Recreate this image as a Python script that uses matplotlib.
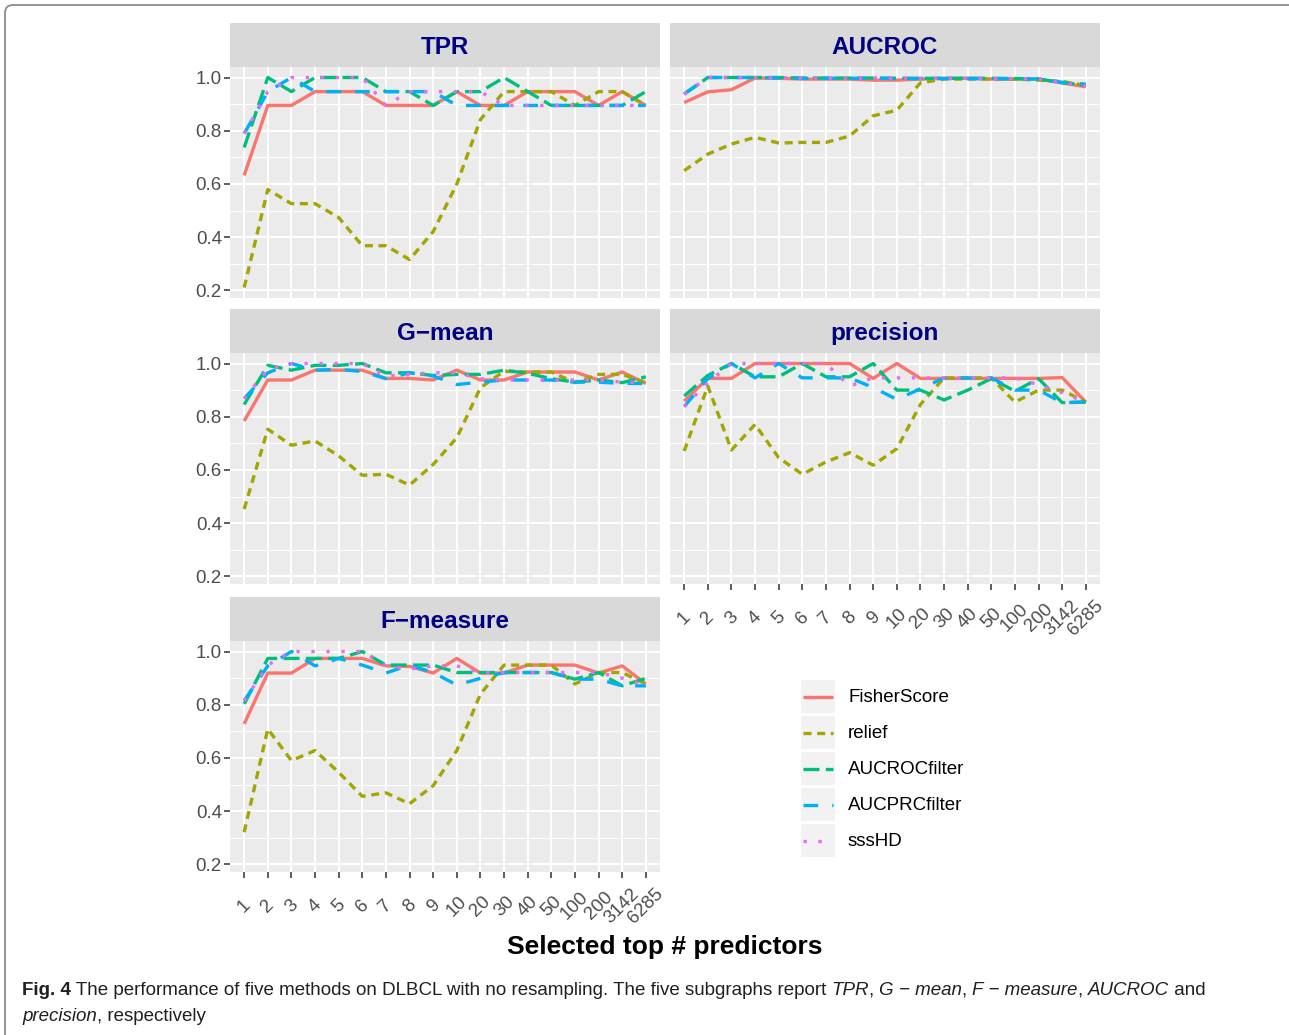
import numpy as np
import matplotlib
matplotlib.use('Agg')
import matplotlib.pyplot as plt
from matplotlib.patches import Rectangle, FancyBboxPatch

plt.rcParams['font.family'] = ['Liberation Sans', 'DejaVu Sans']

# x categories: number of top predictors kept
sizes = ['1', '2', '3', '4', '5', '6', '7', '8', '9', '10', '20', '30', '40',
         '50', '100', '200', '3142', '6285']

methods = ['FisherScore', 'relief', 'AUCROCfilter', 'AUCPRCfilter', 'sssHD']
colors = ['#F8766D', '#A3A500', '#00BF7D', '#00B0F6', '#E76BF3']
styles = ['-', (0, (2.4, 1.7)), (0, (4.8, 1.9)), (0, (4.4, 4.2)), (0, (1, 3.5))]

# TPR
tpr_fisher = [0.632, 0.895, 0.895, 0.947, 0.947, 0.947, 0.895, 0.895, 0.895, 0.947, 0.895, 0.895, 0.947, 0.947, 0.947, 0.895, 0.947, 0.895]
tpr_relief = [0.211, 0.579, 0.526, 0.526, 0.474, 0.368, 0.368, 0.316, 0.421, 0.600, 0.842, 0.947, 0.947, 0.947, 0.895, 0.947, 0.947, 0.895]
tpr_aucroc = [0.737, 1.000, 0.947, 1.000, 1.000, 1.000, 0.947, 0.947, 0.895, 0.947, 0.947, 1.000, 0.947, 0.895, 0.895, 0.895, 0.895, 0.947]
tpr_aucprc = [0.789, 0.947, 1.000, 0.947, 0.947, 0.947, 0.947, 0.947, 0.947, 0.895, 0.895, 0.895, 0.895, 0.895, 0.895, 0.895, 0.895, 0.895]
tpr_ssshd = [0.789, 0.947, 1.000, 1.000, 1.000, 1.000, 0.895, 0.947, 0.947, 0.947, 0.947, 0.895, 0.895, 0.895, 0.895, 0.895, 0.895, 0.895]

# AUCROC
auc_fisher = [0.906, 0.946, 0.954, 0.998, 0.997, 0.994, 0.994, 0.994, 0.990, 0.990, 0.994, 0.997, 0.997, 0.994, 0.994, 0.994, 0.980, 0.965]
auc_relief = [0.650, 0.712, 0.750, 0.775, 0.754, 0.756, 0.756, 0.780, 0.856, 0.877, 0.980, 0.994, 0.994, 0.994, 0.994, 0.990, 0.985, 0.970]
auc_aucroc = [0.938, 1.000, 1.000, 1.000, 1.000, 0.998, 0.998, 0.998, 0.998, 0.997, 0.997, 0.997, 0.997, 0.997, 0.996, 0.995, 0.980, 0.972]
auc_aucprc = [0.938, 1.000, 1.000, 1.000, 0.998, 0.997, 0.997, 0.997, 0.997, 0.996, 0.996, 0.996, 0.996, 0.996, 0.995, 0.994, 0.982, 0.975]
auc_ssshd = [0.937, 1.000, 1.000, 0.999, 0.999, 0.998, 0.998, 0.998, 0.998, 0.998, 0.997, 0.997, 0.997, 0.996, 0.996, 0.995, 0.979, 0.968]

# G-mean
gm_fisher = [0.784, 0.938, 0.938, 0.975, 0.975, 0.975, 0.944, 0.944, 0.938, 0.975, 0.938, 0.938, 0.968, 0.968, 0.968, 0.938, 0.968, 0.925]
gm_relief = [0.453, 0.753, 0.693, 0.709, 0.653, 0.580, 0.584, 0.543, 0.621, 0.721, 0.909, 0.971, 0.968, 0.968, 0.928, 0.959, 0.959, 0.928]
gm_aucroc = [0.846, 0.993, 0.975, 0.993, 0.993, 1.000, 0.965, 0.965, 0.955, 0.959, 0.959, 0.975, 0.963, 0.943, 0.930, 0.938, 0.928, 0.950]
gm_aucprc = [0.868, 0.965, 1.000, 0.975, 0.978, 0.970, 0.943, 0.965, 0.953, 0.921, 0.930, 0.938, 0.938, 0.938, 0.930, 0.930, 0.925, 0.925]
gm_ssshd = [0.868, 0.978, 1.000, 1.000, 1.000, 1.000, 0.953, 0.959, 0.965, 0.965, 0.943, 0.938, 0.938, 0.938, 0.938, 0.938, 0.930, 0.928]

# precision
pr_fisher = [0.859, 0.944, 0.944, 1.000, 1.000, 1.000, 1.000, 1.000, 0.944, 1.000, 0.944, 0.944, 0.944, 0.944, 0.944, 0.944, 0.947, 0.855]
pr_relief = [0.671, 0.915, 0.675, 0.771, 0.646, 0.584, 0.630, 0.665, 0.618, 0.680, 0.846, 0.946, 0.946, 0.946, 0.855, 0.900, 0.900, 0.855]
pr_aucroc = [0.878, 0.955, 1.000, 0.950, 0.950, 1.000, 0.950, 0.950, 1.000, 0.900, 0.900, 0.863, 0.900, 0.943, 0.896, 0.943, 0.853, 0.855]
pr_aucprc = [0.838, 0.943, 1.000, 0.946, 1.000, 0.946, 0.946, 0.946, 0.910, 0.865, 0.905, 0.946, 0.946, 0.946, 0.900, 0.900, 0.853, 0.855]
pr_ssshd = [0.838, 0.928, 1.000, 1.000, 1.000, 1.000, 1.000, 0.915, 0.946, 0.946, 0.946, 0.946, 0.946, 0.946, 0.946, 0.920, 0.890, 0.855]

# F-measure
fm_fisher = [0.728, 0.919, 0.919, 0.974, 0.974, 0.974, 0.946, 0.944, 0.919, 0.974, 0.919, 0.919, 0.949, 0.949, 0.949, 0.919, 0.946, 0.878]
fm_relief = [0.321, 0.709, 0.590, 0.628, 0.546, 0.456, 0.469, 0.428, 0.496, 0.628, 0.840, 0.949, 0.949, 0.949, 0.878, 0.921, 0.921, 0.878]
fm_aucroc = [0.803, 0.974, 0.974, 0.974, 0.974, 1.000, 0.949, 0.949, 0.949, 0.921, 0.921, 0.921, 0.921, 0.921, 0.896, 0.921, 0.871, 0.899]
fm_aucprc = [0.815, 0.946, 1.000, 0.946, 0.974, 0.949, 0.919, 0.949, 0.921, 0.874, 0.899, 0.921, 0.921, 0.921, 0.896, 0.896, 0.871, 0.871]
fm_ssshd = [0.815, 0.949, 1.000, 1.000, 1.000, 1.000, 0.946, 0.934, 0.946, 0.946, 0.921, 0.921, 0.921, 0.921, 0.921, 0.921, 0.900, 0.874]

metrics = {
    'TPR': [tpr_fisher, tpr_relief, tpr_aucroc, tpr_aucprc, tpr_ssshd],
    'AUCROC': [auc_fisher, auc_relief, auc_aucroc, auc_aucprc, auc_ssshd],
    'G\u2212mean': [gm_fisher, gm_relief, gm_aucroc, gm_aucprc, gm_ssshd],
    'precision': [pr_fisher, pr_relief, pr_aucroc, pr_aucprc, pr_ssshd],
    'F\u2212measure': [fm_fisher, fm_relief, fm_aucroc, fm_aucprc, fm_ssshd],
}

W, H = 1289, 1035
fig = plt.figure(figsize=(W / 100, H / 100), dpi=100)


def px_axes(x0, y0, x1, y1):
    return fig.add_axes([x0 / W, 1 - y1 / H, (x1 - x0) / W, (y1 - y0) / H])


# full-figure overlay in pixel units for frame, legend and caption
over = fig.add_axes([0, 0, 1, 1])
over.set_xlim(0, W)
over.set_ylim(H, 0)
over.axis('off')
over.add_patch(FancyBboxPatch((5, 5), 1300, 1100, boxstyle='round,pad=0,rounding_size=8',
                              fc='none', ec='#8C8C8C', lw=1.3))

# shared y range with ggplot-like 5% expansion
allv = np.concatenate([np.ravel(v) for v in metrics.values()])
span = allv.max() - allv.min()
ylo, yhi = allv.min() - 0.05 * span, allv.max() + 0.05 * span

# (name, left px, top px, y labels, x labels)
layout = [('TPR', 230, 67, True, False),
          ('AUCROC', 670, 67, False, False),
          ('G\u2212mean', 230, 353, True, False),
          ('precision', 670, 353, False, True),
          ('F\u2212measure', 230, 641, True, True)]

LW = 2.4
x = np.arange(len(sizes))
for name, x0, y0, show_y, show_x in layout:
    ax = px_axes(x0, y0, x0 + 430, y0 + 231)
    ax.set_facecolor('#EBEBEB')
    for s in ax.spines.values():
        s.set_visible(False)
    ax.set_xlim(-0.6, len(sizes) - 0.4)
    ax.set_ylim(ylo, yhi)
    ax.set_xticks(x)
    ax.set_yticks([0.2, 0.4, 0.6, 0.8, 1.0])
    ax.set_yticks([0.3, 0.5, 0.7, 0.9], minor=True)
    ax.set_yticklabels(['0.2', '0.4', '0.6', '0.8', '1.0'])
    ax.grid(which='major', color='white', lw=1.4)
    ax.grid(which='minor', axis='y', color='white', lw=0.7)
    ax.set_axisbelow(True)
    ax.tick_params(which='minor', length=0)
    ax.tick_params(which='major', length=4, width=1.1, color='#333333',
                   labelcolor='#4D4D4D', labelsize=13.5)
    ax.tick_params(axis='y', pad=1.8)
    if not show_y:
        ax.tick_params(axis='y', left=False, labelleft=False)
    if show_x:
        ax.set_xticklabels(sizes, rotation=45, ha='center', va='center',
                           rotation_mode='anchor')
        ax.tick_params(axis='x', pad=20.5)
    else:
        ax.tick_params(axis='x', bottom=False, labelbottom=False)

    for vals, c, ls in zip(metrics[name], colors, styles):
        ax.plot(x, vals, color=c, lw=LW, linestyle=ls,
                solid_capstyle='butt', dash_capstyle='butt')

    strip = px_axes(x0, y0 - 44, x0 + 430, y0)
    strip.set_facecolor('#D9D9D9')
    strip.set_xticks([])
    strip.set_yticks([])
    for s in strip.spines.values():
        s.set_visible(False)
    strip.text(0.5, 0.29, name, ha='center', va='baseline', fontsize=17.5,
               fontweight='bold', color='#000080', transform=strip.transAxes)

fig.text(665 / W, 1 - 954 / H, 'Selected top # predictors', ha='center',
         va='baseline', fontsize=19, fontweight='bold')

# legend with grey key boxes
for i, (m, c, ls) in enumerate(zip(methods, colors, styles)):
    top = 680 + i * 36
    over.add_patch(Rectangle((801, top), 34, 33, fc='#F2F2F2', ec='none'))
    over.plot([803, 833], [top + 16.5, top + 16.5], color=c, lw=LW, linestyle=ls,
              solid_capstyle='butt', dash_capstyle='butt')
    over.text(848, top + 17, m, ha='left', va='center', fontsize=13.5)

# caption, drawn piece by piece to mix bold / italic runs
renderer = fig.canvas.get_renderer()
cap_color = '#231F20'
cap_size = 13.5


def put_runs(runs, xpos, ybase):
    for txt, kw in runs:
        t = over.text(xpos, ybase, txt, ha='left', va='baseline', fontsize=cap_size,
                      color=cap_color, **kw)
        bb = t.get_window_extent(renderer)
        xpos = bb.x1


it = {'style': 'italic'}
put_runs([('Fig. 4', {'fontweight': 'bold'}),
          (' The performance of five methods on DLBCL with no resampling. The five subgraphs report ', {}),
          ('TPR', it), (', ', {}), ('G \u2212 mean', it), (', ', {}),
          ('F \u2212 measure', it), (', ', {}), ('AUCROC', it), (' and', {})], 22, 995)
put_runs([('precision', it), (', respectively', {})], 22, 1021)

fig.savefig('out.png', dpi=100)
